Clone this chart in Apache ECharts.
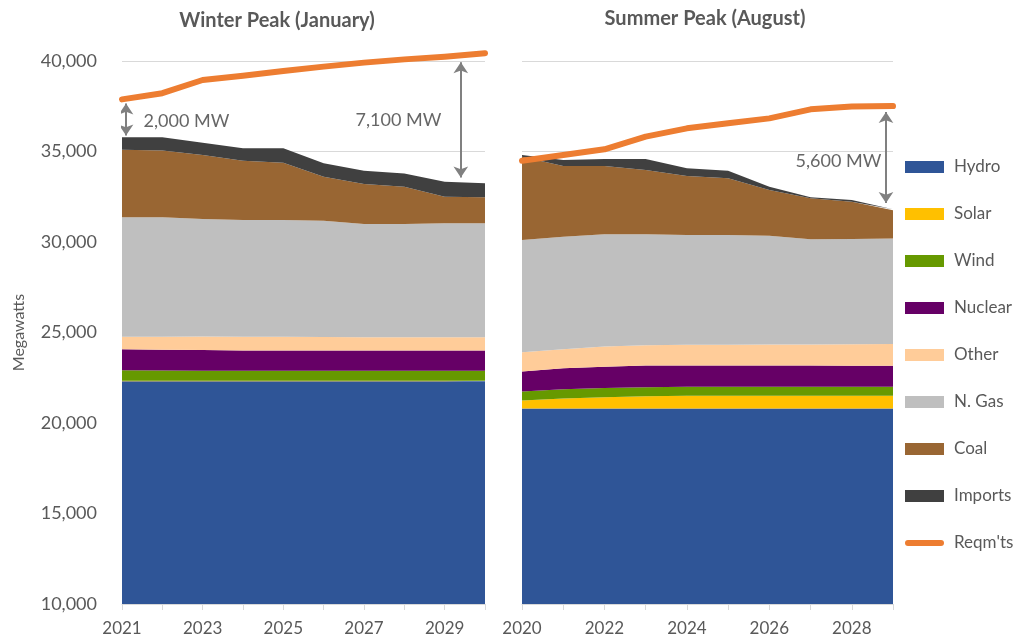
<!DOCTYPE html>
<html>
<head>
<meta charset="utf-8">
<script src="https://cdn.jsdelivr.net/npm/echarts@6/dist/echarts.min.js"></script>
<style>
html,body{margin:0;padding:0;background:#fff;}
#main{width:1022px;height:640px;}
</style>
</head>
<body>
<div id="main"></div>
<script>
// categories
var winterYears = ['2021','2022','2023','2024','2025','2026','2027','2028','2029','2030'];
var summerYears = ['2020','2021','2022','2023','2024','2025','2026','2027','2028','2029'];
var fuelNames = ['Hydro','Solar','Wind','Nuclear','Other','N. Gas','Coal','Imports'];
var reqName = "Reqm'ts";

// winter peak (January), MW
var winterHydro   = [22300,22300,22300,22300,22300,22300,22300,22300,22300,22300];
var winterSolar   = [40,40,40,40,40,40,40,40,40,40];
var winterWind    = [580,560,550,540,540,540,540,540,540,540];
var winterNuclear = [1150,1150,1150,1130,1130,1120,1120,1120,1120,1120];
var winterOther   = [700,720,740,750,750,750,740,740,740,740];
var winterGas     = [6600,6600,6490,6450,6450,6430,6250,6250,6290,6290];
var winterCoal    = [3720,3680,3540,3280,3170,2430,2210,2060,1470,1440];
var winterImports = [700,740,680,690,800,740,740,740,830,770];
var winterReq     = [37880,38220,38950,39190,39450,39690,39910,40090,40240,40430];

// summer peak (August), MW
var summerHydro   = [20800,20800,20800,20800,20800,20800,20800,20800,20800,20800];
var summerSolar   = [450,550,620,680,700,700,700,700,700,700];
var summerWind    = [490,520,510,500,500,500,500,500,500,500];
var summerNuclear = [1100,1150,1180,1190,1170,1170,1170,1170,1160,1160];
var summerOther   = [1070,1050,1110,1120,1150,1160,1170,1170,1190,1200];
var summerGas     = [6200,6220,6210,6140,6070,6060,6010,5810,5820,5840];
var summerCoal    = [4600,3910,3770,3550,3260,3130,2520,2270,2060,1560];
var summerImports = [90,330,390,610,420,420,180,55,90,55];
var summerReq     = [34490,34810,35120,35820,36280,36560,36830,37330,37480,37510];

// gap annotations: [year, from, to] and labels [year, value, text, side]
var winterArrows = [[2021.1,37650,35880],[2029.4,39930,33560]];
var winterNotes  = [[2021.52,36650,'2,000 MW','right'],[2028.93,36740,'7,100 MW','left']];
var summerArrows = [[2028.83,37180,32160]];
var summerNotes  = [[2028.73,34440,'5,600 MW','left']];

var fuelColors = ['#2F5597','#FFC000','#669900','#660066','#FFCC99','#BFBFBF','#996633','#404040'];
var reqColor = '#ED7D31';
var txtColor = '#595959';
var fontFam = 'Lato, "Open Sans", sans-serif';

var winterData = [winterHydro,winterSolar,winterWind,winterNuclear,winterOther,winterGas,winterCoal,winterImports];
var summerData = [summerHydro,summerSolar,summerWind,summerNuclear,summerOther,summerGas,summerCoal,summerImports];

function stackSeries(gridIdx, arrs, stackName) {
    var out = [];
    for (var i = 0; i < fuelNames.length; i++) {
        out.push({
            name: fuelNames[i],
            type: 'line',
            xAxisIndex: gridIdx,
            yAxisIndex: gridIdx,
            stack: stackName,
            data: arrs[i],
            symbol: 'none',
            lineStyle: {width: 0},
            areaStyle: {color: fuelColors[i], opacity: 1},
            itemStyle: {color: fuelColors[i]},
            z: 2
        });
    }
    out.push({
        name: reqName,
        type: 'line',
        xAxisIndex: gridIdx,
        yAxisIndex: gridIdx,
        data: gridIdx == 0 ? winterReq : summerReq,
        symbol: 'none',
        clip: false,
        lineStyle: {color: reqColor, width: 6, cap: 'round', join: 'round'},
        itemStyle: {color: reqColor},
        z: 5
    });
    return out;
}

function arrowSeries(xIdx, yIdx, arrows) {
    var d = [];
    for (var i = 0; i < arrows.length; i++) {
        d.push({coords: [[arrows[i][0], arrows[i][1]], [arrows[i][0], arrows[i][2]]]});
    }
    return {
        type: 'lines',
        coordinateSystem: 'cartesian2d',
        xAxisIndex: xIdx,
        yAxisIndex: yIdx,
        symbol: ['arrow','arrow'],
        symbolSize: 11,
        lineStyle: {color: '#808080', width: 2, opacity: 1},
        silent: true,
        data: d,
        z: 6
    };
}

function noteSeries(xIdx, yIdx, notes) {
    var d = [];
    for (var i = 0; i < notes.length; i++) {
        d.push({
            value: [notes[i][0], notes[i][1]],
            name: notes[i][2],
            label: {position: notes[i][3]}
        });
    }
    return {
        type: 'scatter',
        xAxisIndex: xIdx,
        yAxisIndex: yIdx,
        symbolSize: 1,
        itemStyle: {color: 'rgba(0,0,0,0)'},
        silent: true,
        label: {
            show: true,
            formatter: '{b}',
            distance: 0,
            color: '#404040',
            fontSize: 18,
            fontFamily: fontFam
        },
        data: d,
        z: 6
    };
}

function catAxis(gridIdx, cats) {
    return {
        type: 'category',
        gridIndex: gridIdx,
        data: cats,
        boundaryGap: false,
        axisLine: {lineStyle: {color: '#D9D9D9'}},
        axisTick: {show: true, interval: 0, length: 6, lineStyle: {color: '#D9D9D9'}},
        axisLabel: {interval: 1, margin: 16, color: txtColor, fontSize: 17, fontFamily: fontFam},
        splitLine: {show: false}
    };
}

function valAxis(gridIdx, showLabel) {
    var ax = {
        type: 'value',
        gridIndex: gridIdx,
        min: 10000,
        max: 40000,
        interval: 5000,
        axisLine: {show: false},
        axisTick: {show: false},
        axisLabel: {
            show: showLabel,
            margin: 25,
            color: txtColor,
            fontSize: 18,
            fontFamily: fontFam,
            formatter: function (v) { return v.toLocaleString('en-US'); }
        },
        splitLine: {lineStyle: {color: '#D9D9D9', width: 1}}
    };
    if (showLabel) {
        ax.name = 'Megawatts';
        ax.nameLocation = 'middle';
        ax.nameRotate = 90;
        ax.nameGap = 95;
        ax.nameTextStyle = {color: txtColor, fontSize: 16, fontFamily: fontFam};
    }
    return ax;
}

var legendData = [];
for (var i = 0; i < fuelNames.length; i++) {
    legendData.push({name: fuelNames[i], icon: 'rect'});
}
legendData.push({name: reqName, icon: 'path://M3.5,0 L42.5,0 A3.5,3.5 0 0 1 42.5,7 L3.5,7 A3.5,3.5 0 0 1 3.5,0 Z'});

var chart = echarts.init(document.getElementById('main'), null, {renderer: 'canvas'});
var option = {
    animation: false,
    backgroundColor: '#fff',
    title: [
        {text: 'Winter Peak (January)', left: 277, top: 11, textAlign: 'center', padding: 0,
         textStyle: {color: txtColor, fontSize: 20, fontWeight: 'bold', fontFamily: fontFam}},
        {text: 'Summer Peak (August)', left: 705, top: 9, textAlign: 'center', padding: 0,
         textStyle: {color: txtColor, fontSize: 20, fontWeight: 'bold', fontFamily: fontFam}}
    ],
    legend: {
        orient: 'vertical',
        left: 905,
        top: 157,
        padding: 0,
        itemWidth: 39,
        itemHeight: 12,
        itemGap: 27,
        selectedMode: false,
        textStyle: {color: txtColor, fontSize: 17, fontFamily: fontFam, lineHeight: 20, padding: [0, 0, 0, 5]},
        data: legendData
    },
    grid: [
        {left: 122, top: 61, width: 363, height: 543},
        {left: 522, top: 61, width: 371, height: 543}
    ],
    xAxis: [
        catAxis(0, winterYears),
        catAxis(1, summerYears),
        {type: 'value', gridIndex: 0, min: 2021, max: 2030, show: false},
        {type: 'value', gridIndex: 1, min: 2020, max: 2029, show: false}
    ],
    yAxis: [valAxis(0, true), valAxis(1, false)],
    series: [].concat(
        stackSeries(0, winterData, 'winter'),
        stackSeries(1, summerData, 'summer'),
        [arrowSeries(2, 0, winterArrows), noteSeries(2, 0, winterNotes),
         arrowSeries(3, 1, summerArrows), noteSeries(3, 1, summerNotes)]
    )
};
chart.setOption(option);
</script>
</body>
</html>
